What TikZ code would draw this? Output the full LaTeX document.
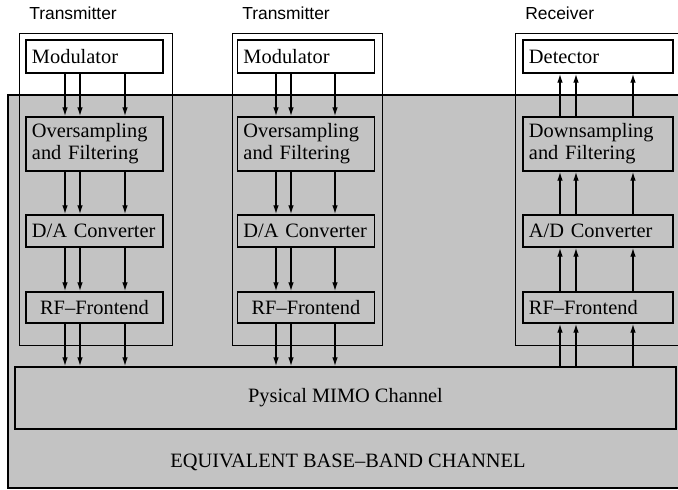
\documentclass[tikz,border=0pt]{standalone}
\usepackage{fontspec}
\setmainfont{Liberation Serif}
\newfontfamily\labelfont{Liberation Sans}
\usetikzlibrary{arrows.meta, positioning, calc}
\definecolor{chgray}{HTML}{C3C3C3}
\newcommand{\boxfont}{\fontsize{14.5}{15.6}\selectfont\hyphenpenalty=10000}

\begin{document}
\begin{tikzpicture}[
    x=0.025cm, y=-0.025cm,
    blk/.style={rectangle, draw=black, line width=1.3pt, inner xsep=0.15cm, inner ysep=0pt,
                align=left, font=\boxfont},
    txblk/.style={blk, fill=#1, text width=3.125cm},
    rxblk/.style={blk, fill=#1, text width=3.45cm},
    frame/.style={draw=black, line width=0.7pt},
    lbl/.style={font=\labelfont\fontsize{12.4}{14}\selectfont, inner sep=0pt},
    sig/.style={-{Latex[length=0.22cm, width=0.14cm]}, line width=0.9pt},
]
    \useasboundingbox (0,0) rectangle (678,490);
    \clip (0,0) rectangle (678,490);

    % Equivalent base-band channel area
    \fill[chgray] (8,95) rectangle (690,488);
    \draw[line width=1pt] (8,95) rectangle (690,488);
    \node[font=\boxfont] (equiv) at (348,462) {EQUIVALENT BASE--BAND CHANNEL};

    % Frames and their labels
    \draw[frame] (19,33) rectangle (172,345);
    \draw[frame] (232,33) rectangle (382,345);
    \draw[frame] (515,33) rectangle (690,345);
    \node[lbl, anchor=west] (tx1lbl) at (29,13) {Transmitter};
    \node[lbl, anchor=west] (tx2lbl) at (242,13) {Transmitter};
    \node[lbl, anchor=west] (rxlbl) at (525,13) {Receiver};

    % Transmitter 1
    \node[txblk=white, minimum height=0.825cm] (mod1) at (94.5,56.5) {Modulator};
    \node[txblk=chgray, minimum height=1.35cm] (os1) at (94.5,144) {Oversampling\\and Filtering};
    \node[txblk=chgray, minimum height=0.8cm] (da1) at (94.5,231) {D/A~Converter};
    \node[txblk=chgray, minimum height=0.775cm, align=center] (rf1) at (94.5,307.5) {RF--Frontend};

    % Transmitter 2
    \node[txblk=white, minimum height=0.825cm] (mod2) at (306,56.5) {Modulator};
    \node[txblk=chgray, minimum height=1.35cm] (os2) at (306,144) {Oversampling\\and Filtering};
    \node[txblk=chgray, minimum height=0.8cm] (da2) at (306,231) {D/A~Converter};
    \node[txblk=chgray, minimum height=0.775cm, align=center] (rf2) at (306,307.5) {RF--Frontend};

    % Receiver
    \node[rxblk=white, minimum height=0.825cm] (det) at (598,56.5) {Detector};
    \node[rxblk=chgray, minimum height=1.35cm] (ds) at (598,144) {Downsampling\\and Filtering};
    \node[rxblk=chgray, minimum height=0.8cm] (ad) at (598,231) {A/D~Converter};
    \node[rxblk=chgray, minimum height=0.775cm] (rf3) at (598,307.5) {RF--Frontend};

    % Physical channel
    \node[blk, fill=chgray, align=center, minimum width=16.525cm, minimum height=1.55cm] (chan) at (345.5,398) {Pysical MIMO Channel};

    % Signal columns
    \coordinate (t1a) at (65,0);
    \coordinate (t1b) at (80,0);
    \coordinate (t1c) at (125,0);
    \coordinate (t2a) at (276,0);
    \coordinate (t2b) at (291,0);
    \coordinate (t2c) at (335,0);
    \coordinate (ra) at (560,0);
    \coordinate (rb) at (576,0);
    \coordinate (rc) at (633,0);

    % Arrows
    \foreach \c in {t1a,t1b,t1c} {
        \draw[sig] (mod1.south -| \c) -- (os1.north -| \c);
        \draw[sig] (os1.south -| \c) -- (da1.north -| \c);
        \draw[sig] (da1.south -| \c) -- (rf1.north -| \c);
        \draw[sig] (rf1.south -| \c) -- (chan.north -| \c);
    }
    \foreach \c in {t2a,t2b,t2c} {
        \draw[sig] (mod2.south -| \c) -- (os2.north -| \c);
        \draw[sig] (os2.south -| \c) -- (da2.north -| \c);
        \draw[sig] (da2.south -| \c) -- (rf2.north -| \c);
        \draw[sig] (rf2.south -| \c) -- (chan.north -| \c);
    }
    \foreach \c in {ra,rb,rc} {
        \draw[sig] (chan.north -| \c) -- (rf3.south -| \c);
        \draw[sig] (rf3.north -| \c) -- (ad.south -| \c);
        \draw[sig] (ad.north -| \c) -- (ds.south -| \c);
        \draw[sig] (ds.north -| \c) -- (det.south -| \c);
    }
\end{tikzpicture}
\end{document}
